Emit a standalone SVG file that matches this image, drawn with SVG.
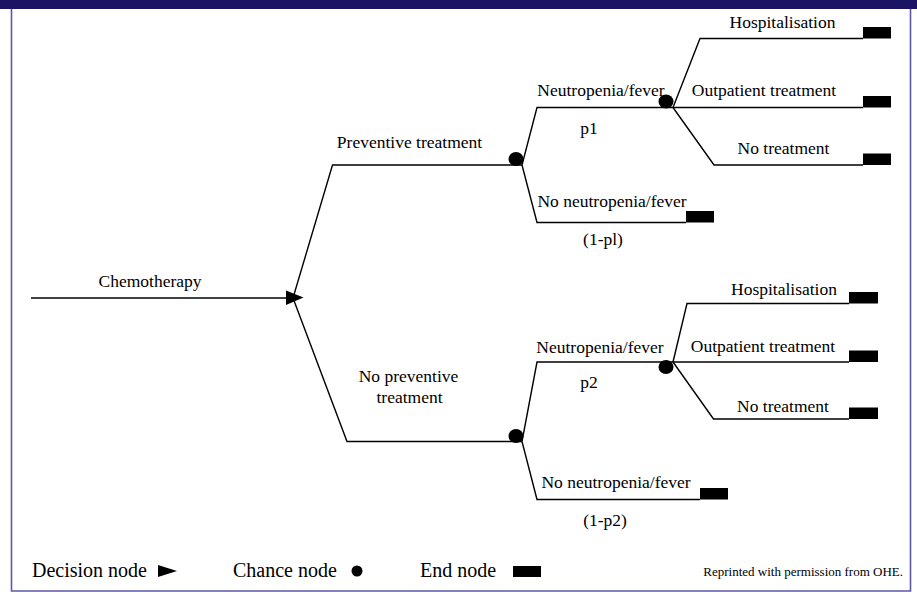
<svg xmlns="http://www.w3.org/2000/svg" width="917" height="592" viewBox="0 0 917 592">
<style>
text{font-family:"Liberation Serif","Times New Roman",serif;fill:#000;}
.lbl{font-size:17.5px;text-anchor:middle;}
.leg{font-size:20px;}
.ln{fill:none;stroke:#000;stroke-width:1.4;stroke-linejoin:miter;}
.end{fill:#000;}
.chance{fill:#000;}
</style>
<rect x="0" y="0" width="917" height="592" fill="#fff"/>
<rect x="0" y="0" width="917" height="9" fill="#1b1464"/>
<path d="M11.5 9V591H910.5V9" fill="none" stroke="#5e58a2" stroke-width="1.6"/>
<g id="connectors">
<path class="ln" d="M31 298H290"/>
<path class="ln" d="M293 298L332.5 165H522"/>
<path class="ln" d="M293 298L347 441.5H522"/>
<path class="ln" d="M522 165L537 107.5H673"/>
<path class="ln" d="M522 165L537 222.5H686"/>
<path class="ln" d="M673 107.5L700 38.5H863"/>
<path class="ln" d="M673 107.5H863"/>
<path class="ln" d="M673 107.5L714 165H863"/>
<path class="ln" d="M522 441.5L537 362H673"/>
<path class="ln" d="M522 441.5L537 499.5H700"/>
<path class="ln" d="M673 362L687 303.5H849"/>
<path class="ln" d="M673 362H849"/>
<path class="ln" d="M673 362L713.5 419H849"/>
</g>
<g id="decision">
<polygon points="286,290.5 303.5,297.5 286,305" fill="#000"/>
</g>
<g id="chemotherapy"><text class="lbl" x="150" y="287">Chemotherapy</text></g>
<g id="preventive"><text class="lbl" x="409.5" y="148">Preventive treatment</text></g>
<g id="chance1"><ellipse class="chance" cx="516" cy="159" rx="7.5" ry="7"/></g>
<g id="neutro1"><text class="lbl" x="601" y="96">Neutropenia/fever</text><text class="lbl" x="589" y="134">p1</text></g>
<g id="noneutro1"><text class="lbl" x="612" y="207">No neutropenia/fever</text><text class="lbl" x="603" y="245">(1-pl)</text><rect class="end" x="686" y="211" width="28" height="11.5"/></g>
<g id="chance2"><ellipse class="chance" cx="666" cy="101.5" rx="7.5" ry="7"/></g>
<g id="hosp1"><text class="lbl" x="782.5" y="28">Hospitalisation</text><rect class="end" x="863" y="27" width="28" height="11.5"/></g>
<g id="outp1"><text class="lbl" x="764" y="96">Outpatient treatment</text><rect class="end" x="863" y="96" width="28" height="11.5"/></g>
<g id="notr1"><text class="lbl" x="783.5" y="154">No treatment</text><rect class="end" x="863" y="153.5" width="28" height="11.5"/></g>
<g id="nopreventive"><text class="lbl" x="408.5" y="382">No preventive</text><text class="lbl" x="409.5" y="403">treatment</text></g>
<g id="chance3"><ellipse class="chance" cx="516" cy="436" rx="7.5" ry="7"/></g>
<g id="neutro2"><text class="lbl" x="600" y="353">Neutropenia/fever</text><text class="lbl" x="589" y="388">p2</text></g>
<g id="noneutro2"><text class="lbl" x="616" y="488">No neutropenia/fever</text><text class="lbl" x="605" y="526">(1-p2)</text><rect class="end" x="700" y="488" width="28" height="11.5"/></g>
<g id="chance4"><ellipse class="chance" cx="666" cy="367" rx="7.5" ry="7"/></g>
<g id="hosp2"><text class="lbl" x="784" y="295">Hospitalisation</text><rect class="end" x="849" y="292" width="29" height="11.5"/></g>
<g id="outp2"><text class="lbl" x="763" y="352">Outpatient treatment</text><rect class="end" x="849" y="350.5" width="29" height="11.5"/></g>
<g id="notr2"><text class="lbl" x="783" y="412">No treatment</text><rect class="end" x="849" y="407.5" width="29" height="11.5"/></g>
<g id="legend">
<text class="leg" x="32" y="577">Decision node</text>
<polygon points="158,565 177,571 158,577" fill="#000"/>
<text class="leg" x="233" y="577">Chance node</text>
<circle cx="357" cy="571" r="5.5" fill="#000"/>
<text class="leg" x="420" y="577">End node</text>
<rect x="513" y="566" width="28" height="11" fill="#000"/>
<text x="903" y="576" style="font-size:13px;text-anchor:end">Reprinted with permission from OHE.</text>
</g>
</svg>
